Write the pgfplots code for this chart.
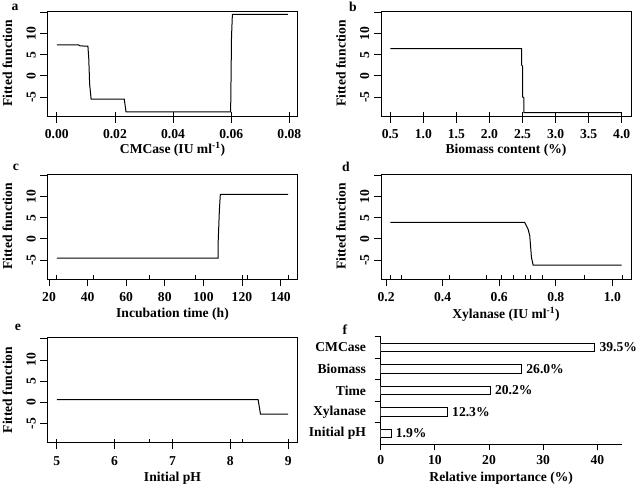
\documentclass[border=0pt]{standalone}
\usepackage{fontspec}
\setmainfont{Liberation Serif}
\usepackage{pgfplots}
\pgfplotsset{compat=1.18}
\pgfplotsset{
  rplot/.style={
    scale only axis, width=250pt, height=105pt, anchor=south west,
    ymin=-9.5, ymax=15.3,
    ytick={-5,0,5,10,15}, yticklabels={-5,0,5,10,{}},
    tick align=outside, tick pos=left,
    major tick length=7pt,
    scaled x ticks=false, scaled y ticks=false,
    axis line style={line width=0.8pt},
    tick style={black, line width=0.8pt},
    xticklabel style={anchor=north, yshift=-2pt},
    yticklabel style={rotate=90, anchor=south},
    ylabel={Fitted function},
    ylabel style={at={(axis description cs:0,0.5)}, anchor=center, yshift=40pt},
    xlabel style={at={(axis description cs:0.5,0)}, anchor=center, yshift=-33pt},
    extra x tick style={tick align=inside, major tick length=3.5pt, xticklabel={}},
    cycle list={{black, line width=1pt, mark=none}},
    every axis plot/.append style={line width=1pt},
  }
}
\begin{document}
\fontsize{13.6}{16}\selectfont\bfseries
\begin{tikzpicture}
\path[use as bounding box] (0,0) rectangle (638pt,484pt);
% a
\begin{axis}[rplot, at={(47.5pt,368pt)},
  xmin=-0.0032, xmax=0.0828,
  xtick={0,0.02,0.04,0.06,0.08}, xticklabels={0.00,0.02,0.04,0.06,0.08},
  extra x ticks={0,0.02,0.04,0.06,0.08},
  xlabel={CMCase (IU ml\textsuperscript{-1})}]
\addplot coordinates {(0,7.3) (0.0075,7.3) (0.008,7.05) (0.0107,7.0) (0.011,4) (0.0113,-2) (0.0118,-5.5) (0.0232,-5.5) (0.0236,-7.5) (0.0238,-8.5) (0.0598,-8.5) (0.0599,-2.9) (0.0601,9.1) (0.0604,14.5) (0.0795,14.5)};
\end{axis}
% b
\begin{axis}[rplot, at={(381pt,368pt)},
  xmin=0.36, xmax=4.14,
  xtick={0.5,1,1.5,2,2.5,3,3.5,4}, xticklabels={0.5,1.0,1.5,2.0,2.5,3.0,3.5,4.0},
  extra x ticks={0.5,1,1.5,2,2.5,3,3.5,4},
  xlabel={Biomass content (\%)},
  xlabel style={yshift=-1pt}]
\addplot coordinates {(0.5,6.4) (2.485,6.4) (2.487,2.5) (2.5,2.3) (2.502,-5) (2.52,-5.2) (2.522,-8.7) (4.0,-8.7)};
\end{axis}
% c
\begin{axis}[rplot, at={(47.5pt,205pt)},
  xmin=19.2, xmax=148.8,
  xtick={20,40,60,80,100,120,140}, xticklabels={20,40,60,80,100,120,140},
  extra x ticks={24,43,72,96,120,123,144},
  xlabel={Incubation time (h)},
  xlabel style={yshift=-2pt}]
\addplot coordinates {(24,-4.6) (107.6,-4.6) (107.7,-0.5) (108.3,6.7) (108.8,10.5) (144,10.5)};
\end{axis}
% d
\begin{axis}[rplot, at={(381pt,205pt)},
  xmin=0.182, xmax=1.066,
  xtick={0.2,0.4,0.6,0.8,1.0}, xticklabels={0.2,0.4,0.6,0.8,1.0},
  extra x ticks={0.215,0.254,0.425,0.555,0.606,0.650,0.691,0.712,0.753,0.900,1.035},
  xlabel={Xylanase (IU ml\textsuperscript{-1})},
  xlabel style={yshift=-2pt}]
\addplot coordinates {(0.215,3.9) (0.690,3.9) (0.696,3.1) (0.702,2.3) (0.708,0.7) (0.714,-4.4) (0.720,-6.2) (1.033,-6.2)};
\end{axis}
% e
\begin{axis}[rplot, at={(47.5pt,41.5pt)},
  xmin=4.84, xmax=9.16,
  xtick={5,6,7,8,9}, xticklabels={5,6,7,8,9},
  extra x ticks={5,6,6.6,7,8,8.2,9},
  xlabel={Initial pH},
  xlabel style={yshift=-3pt}]
\addplot coordinates {(5,0.6) (8.48,0.6) (8.52,-2.8) (9,-2.8)};
\end{axis}
% f
\begin{axis}[at={(380.7pt,39.7pt)}, anchor=south west, scale only axis,
  width=241pt, height=107.6pt,
  xbar, bar width=0.4, xmin=0, xmax=44.5, ymin=0.5, ymax=5.5,
  axis x line=bottom, axis y line=left, axis line style={-, line width=0.8pt},
  tick align=outside, major tick length=6pt,
  tick style={black, line width=0.8pt},
  xtick={0,10,20,30,40}, xticklabels={0,10,20,30,40},
  xticklabel style={anchor=north},
  ytick={1.5,2.5,3.5,4.5,5.5}, yticklabels={,,,,},
  extra y ticks={1,2,3,4,5},
  extra y tick labels={Initial pH,Xylanase,Time,Biomass,CMCase},
  extra y tick style={major tick length=0pt, yticklabel style={anchor=east, xshift=-10pt}},
  xlabel={Relative importance (\%)},
  xlabel style={at={(axis description cs:0.5,0)}, anchor=center, yshift=-33.5pt},
  point meta=explicit symbolic,
  nodes near coords={\pgfplotspointmeta\%},
  every node near coord/.append style={anchor=west, black},
]
\addplot[fill=white, draw=black, line width=0.8pt] coordinates {(1.9,1) [1.9] (12.3,2) [12.3] (20.2,3) [20.2] (26.0,4) [26.0] (39.5,5) [39.5]};
\end{axis}
\node at (15pt,477pt) {a};
\node at (353pt,477pt) {b};
\node at (16pt,317pt) {c};
\node at (346pt,317pt) {d};
\node at (18pt,156.3pt) {e};
\node at (345pt,154pt) {f};
\end{tikzpicture}
\end{document}
